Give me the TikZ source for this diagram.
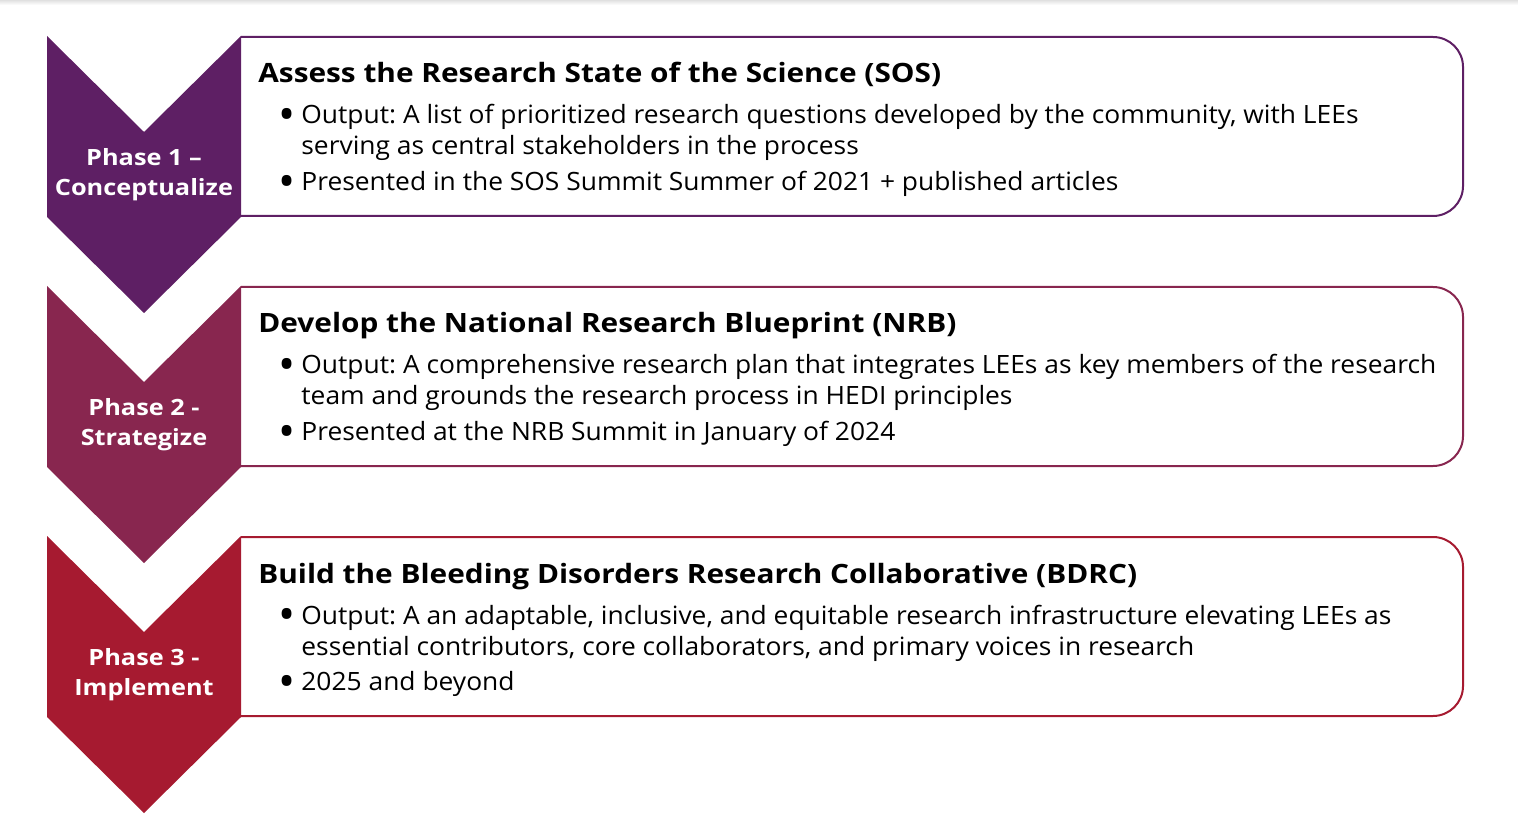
\documentclass[tikz,border=0pt]{standalone}
\usepackage{fontspec}
\setmainfont{Open Sans}
\newfontfamily\itemfont[FakeStretch=1.047]{Open Sans}
\newfontfamily\titlefont[FakeStretch=1.12]{Open Sans}
\newfontfamily\phasefont[FakeStretch=1.13]{Open Sans}
\usetikzlibrary{positioning}
\frenchspacing

\definecolor{phaseone}{HTML}{5E1F64}
\definecolor{phasetwo}{HTML}{88264F}
\definecolor{phasethree}{HTML}{A61A30}

\tikzset{
	chevron/.style={fill=#1, draw=none},
	stagebox/.style={draw=#1, line width=1pt},
	phaselabel/.style={text=white, font=\phasefont\bfseries\fontsize{11.2}{15}\selectfont, align=center, inner sep=0pt},
	stagetitle/.style={anchor=base west, font=\titlefont\bfseries\fontsize{13.3}{16}\selectfont, inner sep=0pt},
	stageitem/.style={anchor=base west, font=\itemfont\fontsize{12.6}{15}\selectfont, inner sep=0pt},
	itemdot/.style={anchor=center, font=\fontsize{22.7}{23}\selectfont, inner sep=0pt}
}

\begin{document}
\begin{tikzpicture}[x=0.5pt, y=-0.5pt]
	\useasboundingbox (0,0) rectangle (1518,817);
	\shade[top color=black!12, bottom color=white] (0,0) rectangle (1518,5);
	% phase 1
	\begin{scope}
		\draw[stagebox=phaseone] (241,37) -- (1433,37) arc[start angle=-90, end angle=0, radius=30] -- (1463,186) arc[start angle=0, end angle=90, radius=30] -- (241,216);
		\fill[chevron=phaseone] (47,36) -- (144,132) -- (241,36) -- (241,217) -- (144,313) -- (47,217) -- cycle;
		\node[phaselabel] (p1) at (144,175) {Phase 1 –\\Conceptualize};
		\node[stagetitle] (t1) at (258,83) {Assess the Research State of the Science (SOS)};
		\node[itemdot] (d1a) at (287,119.5) {•};
		\node[stageitem] (a1) at (301,124) {Output: A list of prioritized research questions developed by the community, with LEEs};
		\node[stageitem] (a1b) at (301,155) {serving as central stakeholders in the process};
		\node[itemdot] (d1b) at (287,186) {•};
		\node[stageitem] (b1) at (301,190.5) {Presented in the SOS Summit Summer of 2021 + published articles};
	\end{scope}
	% phase 2
	\begin{scope}[shift={(0,250)}]
		\draw[stagebox=phasetwo] (241,37) -- (1433,37) arc[start angle=-90, end angle=0, radius=30] -- (1463,186) arc[start angle=0, end angle=90, radius=30] -- (241,216);
		\fill[chevron=phasetwo] (47,36) -- (144,132) -- (241,36) -- (241,217) -- (144,313) -- (47,217) -- cycle;
		\node[phaselabel] (p2) at (144,175) {Phase 2 -\\Strategize};
		\node[stagetitle] (t2) at (258,83) {Develop the National Research Blueprint (NRB)};
		\node[itemdot] (d2a) at (287,119.5) {•};
		\node[stageitem] (a2) at (301,124) {Output: A comprehensive research plan that integrates LEEs as key members of the research};
		\node[stageitem] (a2b) at (301,155) {team and grounds the research process in HEDI principles};
		\node[itemdot] (d2b) at (287,186) {•};
		\node[stageitem] (b2) at (301,190.5) {Presented at the NRB Summit in January of 2024};
	\end{scope}
	% phase 3
	\begin{scope}[shift={(0,500)}]
		\draw[stagebox=phasethree] (241,37) -- (1433,37) arc[start angle=-90, end angle=0, radius=30] -- (1463,186) arc[start angle=0, end angle=90, radius=30] -- (241,216);
		\fill[chevron=phasethree] (47,36) -- (144,132) -- (241,36) -- (241,217) -- (144,313) -- (47,217) -- cycle;
		\node[phaselabel] (p3) at (144,175) {Phase 3 -\\Implement};
		\node[stagetitle] (t3) at (258,83) {Build the Bleeding Disorders Research Collaborative (BDRC)};
		\node[itemdot] (d3a) at (287,119.5) {•};
		\node[stageitem] (a3) at (301,124) {Output: A an adaptable, inclusive, and equitable research infrastructure elevating LEEs as};
		\node[stageitem] (a3b) at (301,155) {essential contributors, core collaborators, and primary voices in research};
		\node[itemdot] (d3b) at (287,186) {•};
		\node[stageitem] (b3) at (301,190.5) {2025 and beyond};
	\end{scope}
\end{tikzpicture}
\end{document}
